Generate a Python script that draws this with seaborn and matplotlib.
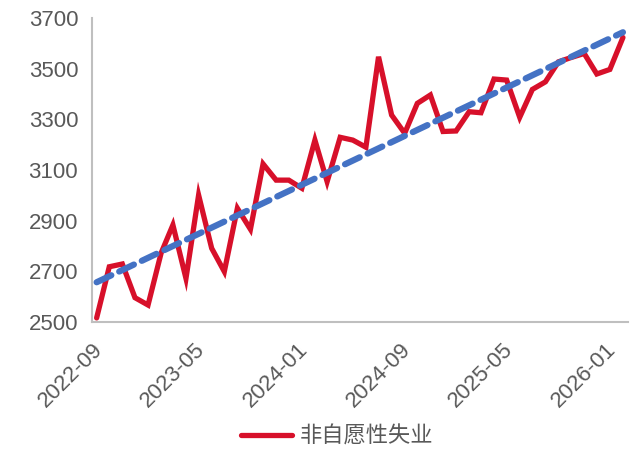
import numpy as np
import pandas as pd
import matplotlib
matplotlib.use("Agg")
import matplotlib.pyplot as plt
import matplotlib.dates as mdates
import seaborn as sns

# monthly values (thousands), 2022-09 .. 2026-02
months = pd.date_range("2022-09-01", periods=42, freq="MS") + pd.Timedelta(days=11)
involuntary = [2516, 2718, 2729, 2596, 2567, 2772, 2883, 2672, 3001, 2791,
               2699, 2949, 2866, 3124, 3060, 3060, 3028, 3218, 3054, 3229,
               3218, 3190, 3547, 3317, 3245, 3363, 3396, 3252, 3254, 3330,
               3326, 3459, 3455, 3308, 3418, 3448, 3527, 3544, 3560, 3479,
               3497, 3623]
series_name = "非自愿性失业"
tick_dates = ["2022-09", "2023-05", "2024-01", "2024-09", "2025-05", "2026-01"]
y_ticks = [2500, 2700, 2900, 3100, 3300, 3500, 3700]

sns.set_style("white")
plt.rcParams["font.family"] = ["Liberation Sans", "Noto Sans CJK SC", "DejaVu Sans"]

red = "#D7102A"
blue = "#4472C4"
grey = "#BFBFBF"
text_c = "#595959"

fig = plt.figure(figsize=(6.42, 4.5), dpi=100)
ax = fig.add_axes([92 / 642, 1 - 322 / 450, 536 / 642, 304 / 450])

df = pd.DataFrame({"date": months, "value": involuntary})
df["num"] = mdates.date2num(df["date"])

sns.lineplot(data=df, x="date", y="value", ax=ax, color=red, linewidth=3.8,
             label=series_name, solid_joinstyle="miter", zorder=2)
# linear trend
sns.regplot(data=df, x="num", y="value", ax=ax, scatter=False, ci=None,
            line_kws=dict(color=blue, linewidth=4.5, linestyle=(0, (2.6, 1.4)),
                          dash_capstyle="round", zorder=3))

ax.set_xlim(mdates.date2num(pd.Timestamp("2022-09-01")),
            mdates.date2num(pd.Timestamp("2026-02-24")))
ax.set_ylim(2500, 3700)
ax.set_yticks(y_ticks)
ax.set_xticks([mdates.date2num(pd.Timestamp(d + "-01")) for d in tick_dates])
ax.set_xticklabels(tick_dates, rotation=45, ha="right", rotation_mode="anchor")
ax.set_xlabel("")
ax.set_ylabel("")

for s in ["top", "right"]:
    ax.spines[s].set_visible(False)
for s in ["left", "bottom"]:
    ax.spines[s].set_color(grey)
    ax.spines[s].set_linewidth(1.5)
ax.tick_params(axis="both", colors=grey, length=6, width=1.5, direction="out",
               labelsize=16, labelcolor=text_c, pad=4)
ax.tick_params(axis="x", pad=6)

ax.get_legend().remove()
handles, labels = ax.get_legend_handles_labels()
fig.legend(handles[:1], labels[:1], loc="center", bbox_to_anchor=(337 / 642, 1 - 437 / 450),
           frameon=False, fontsize=16, handlelength=2.3, handletextpad=0.35,
           labelcolor=text_c)

fig.savefig("out.png", dpi=100)
